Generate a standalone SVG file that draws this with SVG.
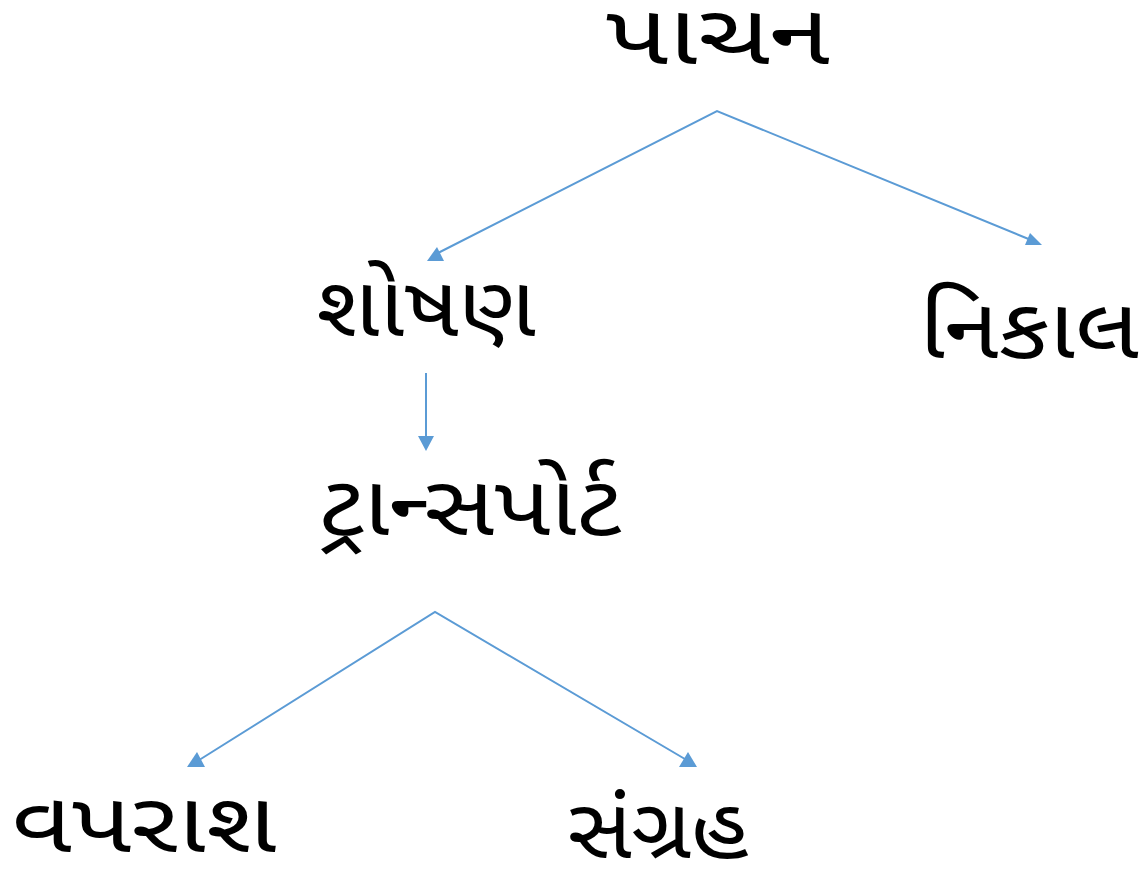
<svg xmlns="http://www.w3.org/2000/svg" width="1147" height="871" viewBox="0 0 1147 871">
  <style>
    .lbl { font-family: "Noto Sans Gujarati", "Lohit Gujarati", "Noto Sans", "DejaVu Sans", sans-serif; font-size: 85px; font-weight: 400; fill: #000; text-anchor: middle; }
    .edge { stroke: #5b9bd5; stroke-width: 2; fill: none; }
    .head { fill: #5b9bd5; stroke: none; }
  </style>
  <rect width="1147" height="871" fill="#fff"/>
  <g id="connectors">
    <polyline class="edge" points="436,254 717,111 1031,240"/>
    <polygon class="head" points="427,261 444,261 437,247"/>
    <polygon class="head" points="1025,245 1042,245 1030,233"/>
    <line class="edge" x1="426" y1="373" x2="426" y2="440"/>
    <polygon class="head" points="418,436 434,436 426,451"/>
    <polyline class="edge" points="196,762 435,612 690,762"/>
    <polygon class="head" points="187,767 205,767 197,752"/>
    <polygon class="head" points="679,767 697,767 688,752"/>
  </g>
  <g id="node-pachan"><text class="lbl" x="718" y="64" textLength="224" lengthAdjust="spacingAndGlyphs">પાચન</text></g>
  <g id="node-shoshan"><text class="lbl" x="426" y="336" textLength="220" lengthAdjust="spacingAndGlyphs">શોષણ</text></g>
  <g id="node-nikal"><text class="lbl" x="1029" y="358" textLength="220" lengthAdjust="spacingAndGlyphs">નિકાલ</text></g>
  <g id="node-transport"><text class="lbl" x="470" y="535" textLength="302" lengthAdjust="spacingAndGlyphs">ટ્રાન્સપોર્ટ</text></g>
  <g id="node-vaparash"><text class="lbl" x="144" y="852" textLength="265" lengthAdjust="spacingAndGlyphs">વપરાશ</text></g>
  <g id="node-sangrah"><text class="lbl" x="658" y="858" textLength="181" lengthAdjust="spacingAndGlyphs">સંગ્રહ</text></g>
</svg>
